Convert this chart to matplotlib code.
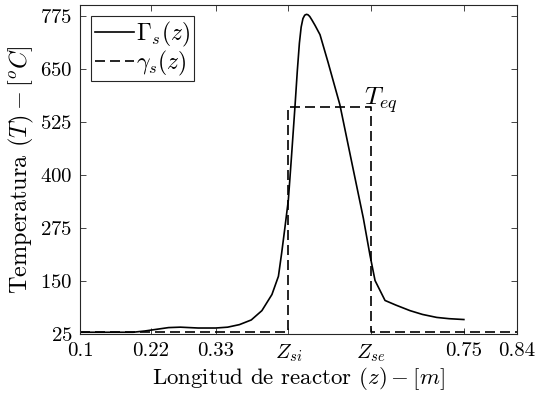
import matplotlib
matplotlib.use('Agg')
import matplotlib.pyplot as plt

# MATLAB/latex look
plt.rcParams['font.family'] = 'serif'
plt.rcParams['font.serif'] = ['cmr10']
plt.rcParams['mathtext.fontset'] = 'cm'
plt.rcParams['axes.formatter.use_mathtext'] = True

# data
z_si = 0.4528
z_se = 0.5923
T_eq = 560
T_in = 28

z_gamma = [0.1, z_si, z_si, z_se, z_se, 0.84]
T_gamma = [T_in, T_in, T_eq, T_eq, T_in, T_in]

z_Gamma = [0.10, 0.15, 0.19, 0.21, 0.23, 0.25, 0.27, 0.30, 0.33, 0.35,
           0.37, 0.39, 0.408, 0.425, 0.436, 0.4415, 0.447, 0.4528, 0.458, 0.464,
           0.468, 0.4715, 0.4745, 0.4775, 0.4805, 0.4835, 0.4860, 0.4890, 0.4930, 0.4980,
           0.5064, 0.52, 0.54, 0.56, 0.5798,
           0.591, 0.5996, 0.6165, 0.635, 0.6588, 0.68, 0.704, 0.725, 0.75]
T_Gamma = [28, 28, 28, 31, 35, 39, 40, 38, 38, 40,
           46, 57, 79, 117, 160, 215, 275, 340, 440, 560,
           645, 710, 748, 768, 776, 778, 777, 773, 764, 752,
           730, 665, 565, 430, 297,
           210, 150, 103, 92, 79, 70, 63, 60, 58]

xticks = [0.1, 0.22, 0.33, z_si, z_se, 0.75, 0.84]
xlabels = ['0.1', '0.22', '0.33', r'$Z_{si}$', r'$Z_{se}$', '0.75', '0.84']
yticks = [25, 150, 275, 400, 525, 650, 775]

fig = plt.figure(figsize=(5.35, 3.98), dpi=100)
ax = fig.add_axes([0.1495, 0.162, 0.8169, 0.8254])

ax.plot(z_Gamma, T_Gamma, '-', color='black', lw=1.2, label=r'$\Gamma_s(z)$')
ax.plot(z_gamma, T_gamma, '--', color='black', lw=1.2, dashes=(6, 3),
        label=r'$\gamma_s(z)$')
ax.text(0.581, 566, r'$T_{eq}$', fontsize=18.5, va='baseline', ha='left')

ax.set_xlim(0.1, 0.84)
ax.set_ylim(25, 800)
ax.set_xticks(xticks)
ax.set_xticklabels(xlabels)
ax.set_yticks(yticks)
ax.tick_params(direction='in', top=True, right=True, length=4.5, width=0.6,
               labelsize=15, color='#262626')
ax.tick_params(axis='x', pad=6.5)
ax.tick_params(axis='y', pad=5.5)
for s in ax.spines.values():
    s.set_color('#262626')
    s.set_linewidth(0.8)

ax.set_xlabel(r'Longitud de reactor $(z) - [m]$', fontsize=16.5, labelpad=1)
ax.set_ylabel(r'Temperatura $(T) - [^oC]$', fontsize=17.5, labelpad=3)

leg = ax.legend(loc='upper left', fontsize=17, fancybox=False, edgecolor='#262626',
                framealpha=1, handlelength=1.65, handletextpad=0.1,
                borderpad=0.15, labelspacing=0.0, borderaxespad=0.47)
leg.get_frame().set_linewidth(0.8)

fig.savefig('out.png', dpi=100)
